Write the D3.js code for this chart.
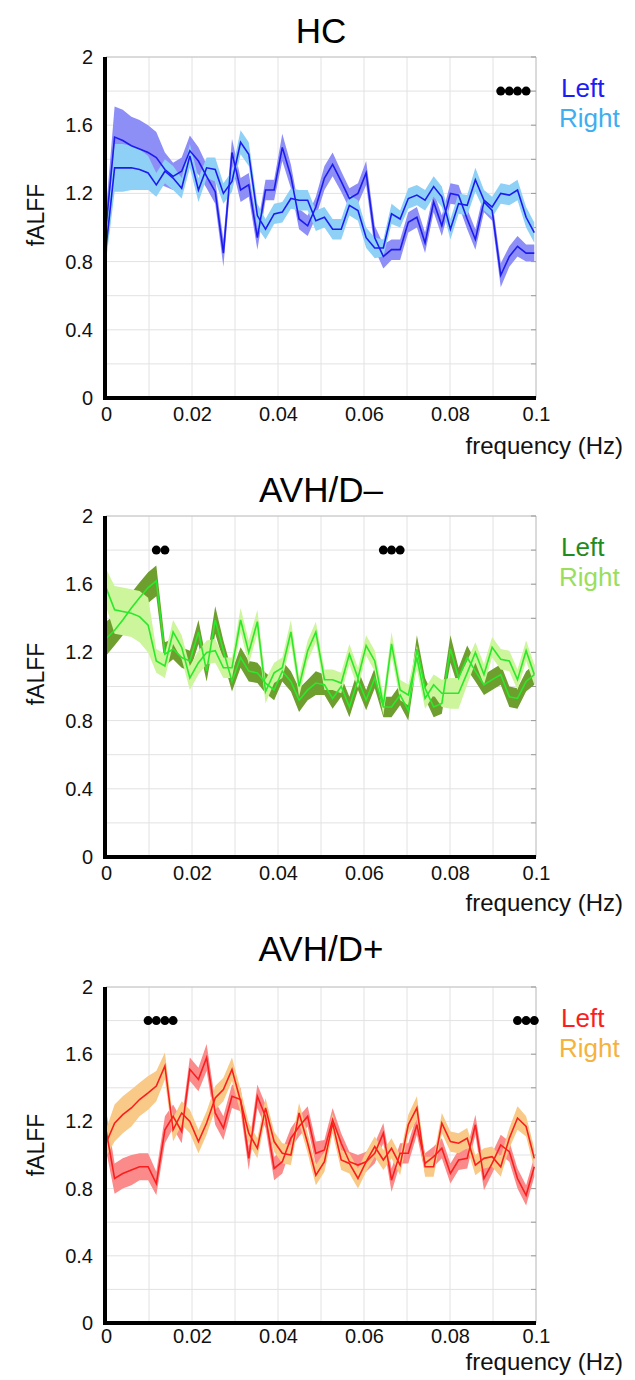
<!DOCTYPE html>
<html>
<head>
<meta charset="utf-8">
<script src="https://cdn.jsdelivr.net/npm/d3@7"></script>
<style>
body { margin: 0; background: #fff; }
svg { display: block; font-family: "Liberation Sans", Arial, sans-serif; }
</style>
</head>
<body>
<div id="chart"></div>
<script>
// frequency bins (Hz)
var freq = [0, 0.002, 0.0039, 0.0059, 0.0078, 0.0098, 0.0117, 0.0137, 0.0156, 0.0176,
  0.0195, 0.0215, 0.0234, 0.0254, 0.0273, 0.0293, 0.0313, 0.0332, 0.0352, 0.0371,
  0.0391, 0.041, 0.043, 0.0449, 0.0469, 0.0488, 0.0508, 0.0527, 0.0547, 0.0566,
  0.0586, 0.0605, 0.0625, 0.0645, 0.0664, 0.0684, 0.0703, 0.0723, 0.0742, 0.0762,
  0.0781, 0.0801, 0.082, 0.084, 0.0859, 0.0879, 0.0898, 0.0918, 0.0938, 0.0957,
  0.0977, 0.0996];

var yTicks = [0, 0.4, 0.8, 1.2, 1.6, 2];
var xTicks = [0, 0.02, 0.04, 0.06, 0.08, 0.1];

// HC
var hcLeft = [1.00, 1.53, 1.51, 1.48, 1.46, 1.44, 1.41, 1.34, 1.30, 1.33,
  1.45, 1.39, 1.30, 1.21, 0.85, 1.44, 1.22, 1.25, 0.94, 1.22,
  1.22, 1.47, 1.30, 1.05, 1.01, 1.12, 1.29, 1.37, 1.27, 1.17,
  1.20, 1.32, 0.94, 0.83, 0.87, 0.87, 1.03, 1.06, 0.91, 1.15,
  1.01, 1.20, 1.19, 1.05, 0.93, 1.15, 1.10, 0.72, 0.83, 0.89,
  0.85, 0.85];
var hcLeftSE = [0.10, 0.18, 0.18, 0.17, 0.17, 0.16, 0.15, 0.10, 0.08, 0.08,
  0.09, 0.08, 0.07, 0.07, 0.08, 0.08, 0.07, 0.07, 0.07, 0.06,
  0.06, 0.08, 0.07, 0.06, 0.06, 0.06, 0.07, 0.07, 0.06, 0.06,
  0.06, 0.07, 0.07, 0.07, 0.06, 0.06, 0.06, 0.06, 0.06, 0.06,
  0.06, 0.06, 0.06, 0.06, 0.06, 0.06, 0.06, 0.07, 0.06, 0.06,
  0.05, 0.05];
var hcRight = [0.88, 1.35, 1.35, 1.35, 1.34, 1.32, 1.25, 1.33, 1.29, 1.23,
  1.42, 1.22, 1.35, 1.34, 1.20, 1.27, 1.50, 1.43, 1.07, 0.99,
  1.08, 1.09, 1.17, 1.16, 1.16, 1.04, 1.06, 0.99, 0.99, 1.13,
  1.10, 0.94, 0.88, 0.88, 1.08, 1.05, 1.17, 1.19, 1.16, 1.24,
  1.18, 0.99, 1.14, 1.13, 1.28, 1.16, 1.12, 1.20, 1.19, 1.22,
  1.06, 0.97];
var hcRightSE = [0.08, 0.14, 0.14, 0.13, 0.12, 0.10, 0.07, 0.07, 0.07, 0.06,
  0.07, 0.07, 0.06, 0.07, 0.06, 0.06, 0.07, 0.07, 0.07, 0.06,
  0.06, 0.06, 0.06, 0.06, 0.06, 0.06, 0.06, 0.06, 0.06, 0.06,
  0.06, 0.06, 0.06, 0.05, 0.06, 0.05, 0.06, 0.06, 0.06, 0.06,
  0.06, 0.06, 0.06, 0.06, 0.07, 0.06, 0.06, 0.06, 0.06, 0.06,
  0.06, 0.06];
var hcSig = [0.0918, 0.0938, 0.0957, 0.0977];

// AVH/D-
var dmLeft = [1.28, 1.33, 1.39, 1.46, 1.52, 1.58, 1.62, 1.19, 1.22, 1.17,
  1.15, 1.32, 1.09, 1.39, 1.21, 1.03, 1.17, 1.09, 1.08, 1.02,
  0.98, 1.09, 1.03, 0.92, 0.98, 1.02, 1.01, 0.93, 1.00, 0.88,
  1.04, 0.92, 1.05, 0.88, 0.88, 0.95, 0.86, 1.22, 0.99, 0.88,
  0.90, 1.22, 1.05, 1.17, 1.09, 1.01, 1.04, 1.07, 0.94, 0.93,
  1.03, 1.07];
var dmLeftSE = [0.10, 0.09, 0.09, 0.09, 0.09, 0.09, 0.09, 0.07, 0.06, 0.06,
  0.06, 0.07, 0.06, 0.08, 0.06, 0.06, 0.06, 0.06, 0.06, 0.06,
  0.06, 0.06, 0.06, 0.07, 0.06, 0.07, 0.06, 0.06, 0.06, 0.06,
  0.06, 0.06, 0.06, 0.06, 0.06, 0.06, 0.06, 0.08, 0.06, 0.06,
  0.06, 0.08, 0.06, 0.07, 0.06, 0.06, 0.06, 0.06, 0.06, 0.06,
  0.06, 0.06];
var dmRight = [1.58, 1.45, 1.44, 1.43, 1.41, 1.36, 1.15, 1.12, 1.32, 1.23,
  1.05, 1.14, 1.20, 1.21, 1.11, 1.11, 1.39, 1.20, 1.38, 0.97,
  1.08, 1.11, 1.32, 1.00, 1.21, 1.32, 1.04, 1.04, 1.02, 1.19,
  1.05, 1.24, 1.15, 0.89, 1.25, 0.98, 0.95, 1.17, 0.93, 1.01,
  0.96, 0.96, 0.96, 1.08, 1.20, 1.07, 1.23, 1.16, 1.15, 1.04,
  1.21, 1.07];
var dmRightSE = [0.11, 0.14, 0.14, 0.14, 0.15, 0.16, 0.07, 0.07, 0.07, 0.07,
  0.07, 0.07, 0.07, 0.07, 0.06, 0.06, 0.07, 0.07, 0.07, 0.07,
  0.06, 0.06, 0.07, 0.06, 0.06, 0.06, 0.06, 0.06, 0.06, 0.06,
  0.06, 0.06, 0.06, 0.06, 0.07, 0.06, 0.06, 0.07, 0.06, 0.06,
  0.08, 0.09, 0.09, 0.07, 0.06, 0.06, 0.06, 0.06, 0.06, 0.06,
  0.06, 0.06];
var dmSig = [0.0117, 0.0137, 0.0645, 0.0664, 0.0684];

// AVH/D+
var dpLeft = [1.15, 0.86, 0.89, 0.91, 0.93, 0.93, 0.83, 1.15, 1.23, 1.14,
  1.51, 1.45, 1.58, 1.25, 1.16, 1.35, 1.33, 0.98, 1.35, 1.23,
  0.92, 0.96, 1.10, 1.17, 1.23, 1.01, 1.03, 1.21, 1.07, 0.96,
  0.94, 0.96, 1.01, 1.13, 0.85, 1.01, 1.01, 1.18, 0.95, 0.99,
  1.04, 0.89, 0.97, 0.98, 1.18, 0.86, 0.95, 1.06, 1.02, 0.86,
  0.76, 0.93];
var dpLeftSE = [0.12, 0.09, 0.09, 0.09, 0.08, 0.08, 0.07, 0.08, 0.07, 0.07,
  0.07, 0.07, 0.08, 0.07, 0.07, 0.07, 0.07, 0.07, 0.07, 0.07,
  0.07, 0.07, 0.06, 0.06, 0.06, 0.07, 0.06, 0.07, 0.06, 0.06,
  0.06, 0.06, 0.06, 0.06, 0.07, 0.06, 0.06, 0.06, 0.06, 0.06,
  0.06, 0.06, 0.06, 0.06, 0.06, 0.07, 0.06, 0.06, 0.06, 0.06,
  0.06, 0.06];
var dpRight = [1.07, 1.19, 1.24, 1.28, 1.33, 1.37, 1.41, 1.53, 1.15, 1.25,
  1.20, 1.08, 1.19, 1.34, 1.39, 1.51, 1.32, 1.13, 1.04, 1.28,
  1.08, 1.01, 1.00, 1.25, 1.07, 0.88, 0.96, 1.19, 0.97, 0.95,
  0.86, 0.96, 1.05, 0.97, 1.04, 0.94, 1.18, 1.28, 0.93, 0.93,
  1.19, 1.08, 1.07, 1.10, 0.94, 0.98, 0.99, 0.93, 1.10, 1.22,
  1.17, 0.98];
var dpRightSE = [0.08, 0.11, 0.11, 0.11, 0.10, 0.10, 0.09, 0.08, 0.07, 0.07,
  0.07, 0.07, 0.07, 0.07, 0.07, 0.07, 0.07, 0.06, 0.06, 0.06,
  0.06, 0.06, 0.06, 0.06, 0.06, 0.06, 0.06, 0.06, 0.06, 0.06,
  0.06, 0.06, 0.06, 0.06, 0.06, 0.06, 0.06, 0.07, 0.06, 0.06,
  0.06, 0.06, 0.06, 0.06, 0.06, 0.06, 0.06, 0.06, 0.06, 0.07,
  0.06, 0.06];
var dpSig = [0.0098, 0.0117, 0.0137, 0.0156, 0.0957, 0.0977, 0.0996];

var width = 635, height = 1380;

var panels = [
  {title: "HC", top: 57, h: 341, titleY: 43, tickPad: 9, fLab: 454,
   L: hcLeft, Lse: hcLeftSE, R: hcRight, Rse: hcRightSE, sig: hcSig,
   line: "#1c1cf0", fillL: "#8e8ef7", fillR: "#8fd0f7", textL: "#1c1cf5", textR: "#3eaef0"},
  {title: "AVH/D\u2013", top: 516, h: 341, titleY: 502, tickPad: 9, fLab: 911,
   L: dmLeft, Lse: dmLeftSE, R: dmRight, Rse: dmRightSE, sig: dmSig,
   line: "#2ae82a", fillL: "#6e9e2e", fillR: "#ccf59c", textL: "#1f8c1f", textR: "#9ade5c"},
  {title: "AVH/D+", top: 987, h: 336, titleY: 961, tickPad: 6, fLab: 1370,
   L: dpLeft, Lse: dpLeftSE, R: dpRight, Rse: dpRightSE, sig: dpSig,
   line: "#fa1e1e", fillL: "#fb8b8b", fillR: "#f8c987", textL: "#fa1e1e", textR: "#f5b23c"}
];

var svg = d3.select("#chart").append("svg")
  .attr("width", width)
  .attr("height", height);

var x = d3.scaleLinear().domain([0, 0.1]).range([106, 536]);

panels.forEach(function(p) {
  var y = d3.scaleLinear().domain([0, 2]).range([p.top + p.h, p.top]);
  var g = svg.append("g");

  // grid
  g.append("g").selectAll("line")
    .data(x.ticks(10))
    .enter().append("line")
    .attr("x1", function(d) { return x(d); })
    .attr("x2", function(d) { return x(d); })
    .attr("y1", y(0)).attr("y2", y(2))
    .attr("stroke", "#e2e2e2").attr("stroke-width", 1);
  g.append("g").selectAll("line")
    .data(y.ticks(10))
    .enter().append("line")
    .attr("x1", x(0)).attr("x2", x(0.1))
    .attr("y1", function(d) { return y(d); })
    .attr("y2", function(d) { return y(d); })
    .attr("stroke", "#e2e2e2").attr("stroke-width", 1);

  // top / right frame
  g.append("path")
    .attr("d", "M" + x(0) + "," + y(2) + "H" + x(0.1) + "V" + y(0))
    .attr("fill", "none").attr("stroke", "#c4c4c4").attr("stroke-width", 1);
  g.append("g").selectAll("line")
    .data(y.ticks(10))
    .enter().append("line")
    .attr("x1", x(0.1) - 5).attr("x2", x(0.1))
    .attr("y1", function(d) { return y(d); })
    .attr("y2", function(d) { return y(d); })
    .attr("stroke", "#999").attr("stroke-width", 1);

  function band(m, se) {
    return d3.area()
      .x(function(d, i) { return x(freq[i]); })
      .y0(function(d, i) { return y(m[i] - se[i]); })
      .y1(function(d, i) { return y(m[i] + se[i]); })(m);
  }
  var line = d3.line()
    .x(function(d, i) { return x(freq[i]); })
    .y(function(d) { return y(d); });

  g.append("path").attr("d", band(p.L, p.Lse)).attr("fill", p.fillL);
  g.append("path").attr("d", band(p.R, p.Rse)).attr("fill", p.fillR);
  g.append("path").attr("d", line(p.L)).attr("fill", "none")
    .attr("stroke", p.line).attr("stroke-width", 1.6);
  g.append("path").attr("d", line(p.R)).attr("fill", "none")
    .attr("stroke", p.line).attr("stroke-width", 1.6);

  // significance dots
  g.append("g").selectAll("circle")
    .data(p.sig)
    .enter().append("circle")
    .attr("cx", function(d) { return x(d); })
    .attr("cy", y(1.8))
    .attr("r", 4.5)
    .attr("fill", "#000");

  // axes
  var yAxis = d3.axisLeft(y).tickValues(yTicks).tickSize(0).tickPadding(13)
    .tickFormat(d3.format("~g"));
  var ya = g.append("g").attr("transform", "translate(" + x(0) + ",0)").call(yAxis);
  ya.select(".domain").remove();
  ya.selectAll("text").attr("font-size", 20).attr("fill", "#111")
    .style("font-family", "'Liberation Sans', Arial, sans-serif");

  var xAxis = d3.axisBottom(x).tickValues(xTicks).tickSize(0).tickPadding(p.tickPad)
    .tickFormat(d3.format("~g"));
  var xa = g.append("g").attr("transform", "translate(0," + y(0) + ")").call(xAxis);
  xa.select(".domain").remove();
  xa.selectAll("text").attr("font-size", 20).attr("fill", "#111")
    .style("font-family", "'Liberation Sans', Arial, sans-serif");

  // thick spines
  g.append("line")
    .attr("x1", x(0) - 1).attr("x2", x(0) - 1)
    .attr("y1", y(2)).attr("y2", y(0) + 2)
    .attr("stroke", "#000").attr("stroke-width", 4);
  g.append("line")
    .attr("x1", x(0) - 3).attr("x2", x(0.1))
    .attr("y1", y(0)).attr("y2", y(0))
    .attr("stroke", "#000").attr("stroke-width", 4);

  // texts
  g.append("text")
    .attr("x", (x(0) + x(0.1)) / 2).attr("y", p.titleY)
    .attr("text-anchor", "middle").attr("font-size", 35).attr("fill", "#000")
    .text(p.title);
  g.append("text")
    .attr("transform", "translate(44," + (p.top + 158) + ") rotate(-90)")
    .attr("text-anchor", "middle").attr("font-size", 23).attr("fill", "#111")
    .text("fALFF");
  g.append("text")
    .attr("x", 623).attr("y", p.fLab)
    .attr("text-anchor", "end").attr("font-size", 24).attr("fill", "#111")
    .text("frequency (Hz)");
  g.append("text")
    .attr("x", 561).attr("y", p.top + 40)
    .attr("font-size", 26).attr("fill", p.textL)
    .text("Left");
  g.append("text")
    .attr("x", 559).attr("y", p.top + 70)
    .attr("font-size", 26).attr("fill", p.textR)
    .text("Right");
});
</script>
</body>
</html>
